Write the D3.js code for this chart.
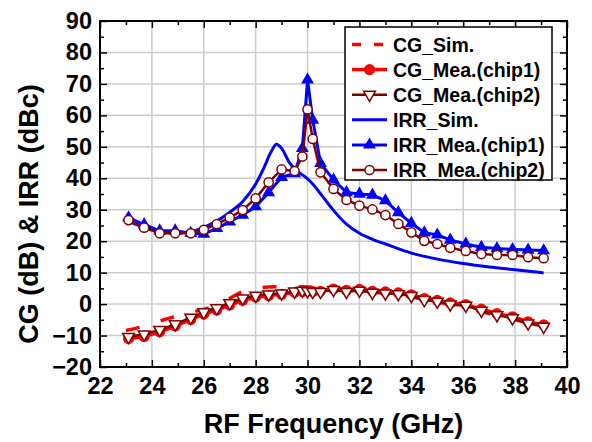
<!DOCTYPE html>
<html><head><meta charset="utf-8">
<script src="https://cdn.jsdelivr.net/npm/d3@7"></script>
<style>
html,body{margin:0;padding:0;background:#fff;}
svg{display:block;}
text{font-family:"Liberation Sans",Arial,Helvetica,sans-serif;font-weight:bold;fill:#000;}
</style></head>
<body>
<script>
// ---------- data ----------
const xTicks = [22,24,26,28,30,32,34,36,38,40];
const yTicks = [-20,-10,0,10,20,30,40,50,60,70,80,90];

const freqMea = [23.1,23.7,24.3,24.9,25.5,26.0,26.5,27.0,27.5,28.0,28.5,29.0,29.5,29.8,30.0,30.2,30.5,31.0,31.5,32.0,32.5,33.0,33.5,34.0,34.5,35.0,35.5,36.1,36.7,37.3,37.9,38.5,39.1];

const cgChip1 = [-11.0,-10.3,-8.8,-7.0,-4.9,-3.2,-1.9,-0.3,1.2,2.2,2.7,3.1,3.7,4.0,4.1,4.0,4.1,4.8,4.4,4.7,4.1,3.9,3.6,3.0,1.8,1.2,0.4,-0.1,-1.6,-3.0,-4.0,-5.6,-6.6];
const cgChip2 = [-10.4,-9.6,-8.2,-6.4,-4.3,-2.6,-1.3,0.3,1.8,2.7,3.1,3.4,4.0,4.3,4.1,3.9,3.9,4.5,3.9,4.3,3.6,3.4,3.2,2.6,1.3,0.8,-0.1,-0.5,-2.1,-3.5,-4.5,-6.1,-7.2];

const irrChip1 = [27.5,25.3,23.3,23.3,22.5,22.3,24.1,26.2,28.3,31.0,35.5,40.3,41.5,49.5,71.3,58.5,44.8,39.5,35.5,35.0,34.7,32.9,29.1,25.7,22.7,22.0,20.4,19.1,18.1,17.7,17.4,17.2,17.0];
const irrChip2 = [26.7,24.3,22.5,22.5,22.5,23.6,25.4,27.5,29.9,33.6,38.7,42.8,42.3,46.9,61.9,52.5,41.9,36.6,33.1,31.3,30.1,28.3,25.5,22.8,20.1,19.1,17.9,16.9,15.9,15.6,15.6,14.9,14.6];

const freqCgSim = [23.0,23.5,24.0,24.5,25.0,25.5,26.0,26.5,27.0,27.5,28.0,28.5,29.0,29.5,30.0,30.5,31.0,31.5,32.0,32.5,33.0,33.5,34.0,34.5,35.0,35.5,36.0,36.5,37.0,37.5,38.0,38.5,39.0];
const cgSim = [-8.4,-7.4,-6.0,-4.9,-3.7,-2.6,-1.7,-0.3,1.8,4.0,5.0,5.4,5.5,5.5,5.4,5.2,5.0,4.8,4.4,4.0,3.5,3.0,2.3,1.5,0.7,-0.1,-1.0,-2.0,-3.0,-4.0,-5.0,-6.0,-7.0];

const freqIrrSim = [23.0,23.5,24.0,24.5,25.0,25.5,26.0,26.5,27.0,27.5,28.0,28.3,28.6,28.8,29.0,29.3,29.6,29.9,30.2,30.6,31.0,31.5,32.0,32.5,33.0,34.0,35.0,36.0,37.0,38.0,39.1];
const irrSim = [26.8,25.0,23.8,23.0,22.7,23.0,24.4,26.4,29.2,32.6,38.2,43.0,48.5,50.8,49.5,45.0,42.3,40.5,38.2,34.0,29.8,25.4,22.5,20.6,19.1,16.2,14.3,12.9,11.8,10.9,9.9];

const legendLabels = ["CG_Sim.","CG_Mea.(chip1)","CG_Mea.(chip2)","IRR_Sim.","IRR_Mea.(chip1)","IRR_Mea.(chip2)"];

// ---------- layout ----------
const W = 592, H = 442;
const L = 100, R = 567, T = 21, B = 367;
const RED = "#ff0000", WINE = "#800000", BLUE = "#0000ff";

const svg = d3.select("body").append("svg").attr("width",W).attr("height",H);
const x = d3.scaleLinear().domain([22,40]).range([L,R]);
const y = d3.scaleLinear().domain([-20,90]).range([B,T]);

// grid
const grid = svg.append("g");
grid.selectAll(".gx").data(xTicks.slice(1,-1)).enter().append("line")
  .attr("x1",d=>x(d)).attr("x2",d=>x(d)).attr("y1",T).attr("y2",B)
  .attr("stroke","#cccccc").attr("stroke-width",1.5);
grid.selectAll(".gy").data(yTicks.slice(1,-1)).enter().append("line")
  .attr("y1",d=>y(d)).attr("y2",d=>y(d)).attr("x1",L).attr("x2",R)
  .attr("stroke","#cccccc").attr("stroke-width",1.5);

// axes with inward ticks on all sides
const xMinor = d3.range(23,40,2);
const yMinor = d3.range(-15,90,10);
function addAxis(axisFn, scale, major, minor, transform, labels){
  const g = svg.append("g").attr("transform",transform);
  g.call(axisFn(scale).tickValues(major).tickSize(-7).tickPadding(labels?10:0).tickFormat(labels?d3.format("d"):""));
  const g2 = svg.append("g").attr("transform",transform);
  g2.call(axisFn(scale).tickValues(minor).tickSize(-4).tickFormat(""));
  [g,g2].forEach(gg=>{
    gg.select(".domain").remove();
    gg.selectAll(".tick line").attr("stroke","#000").attr("stroke-width",1.5);
  });
  return g;
}
const gxB = addAxis(d3.axisBottom, x, xTicks, xMinor, `translate(0,${B})`, true);
addAxis(d3.axisTop, x, xTicks, xMinor, `translate(0,${T})`, false);
const gyL = addAxis(d3.axisLeft, y, yTicks, yMinor, `translate(${L},0)`, true);
addAxis(d3.axisRight, y, yTicks, yMinor, `translate(${R},0)`, false);
gxB.selectAll(".tick text").attr("font-size",23.5).attr("font-family","'Liberation Sans',Arial,sans-serif").attr("font-weight","bold").attr("fill","#000").attr("dy","0.74em");
gyL.selectAll(".tick text").attr("font-size",23.5).attr("font-family","'Liberation Sans',Arial,sans-serif").attr("font-weight","bold").attr("fill","#000").attr("x",-8);

// frame
svg.append("rect").attr("x",L).attr("y",T).attr("width",R-L).attr("height",B-T)
  .attr("fill","none").attr("stroke","#000").attr("stroke-width",2);

// axis titles
svg.append("text").attr("x",(L+R)/2).attr("y",433).attr("text-anchor","middle")
  .attr("font-size",27).text("RF Frequency (GHz)");
svg.append("text").attr("transform","translate(38,214) rotate(-90)").attr("text-anchor","middle")
  .attr("font-size",27).text("CG (dB) & IRR (dBc)");

// ---------- series ----------
const plot = svg.append("g");
const line = d3.line().x(d=>x(d[0])).y(d=>y(d[1]));
const smooth = d3.line().x(d=>x(d[0])).y(d=>y(d[1])).curve(d3.curveMonotoneX);
const zip = (a,b)=>a.map((v,i)=>[v,b[i]]);

const triUp = d3.symbol().type(d3.symbolTriangle).size(72)();
const triDown = d3.symbol().type(d3.symbolTriangle).size(60)();

// CG sim (dashed)
plot.append("path").datum(zip(freqCgSim,cgSim)).attr("d",smooth)
  .attr("fill","none").attr("stroke",RED).attr("stroke-width",3.5).attr("stroke-dasharray","14,22");

// CG chip1
plot.append("path").datum(zip(freqMea,cgChip1)).attr("d",line)
  .attr("fill","none").attr("stroke",RED).attr("stroke-width",3.5);
plot.selectAll(".c1").data(zip(freqMea,cgChip1)).enter().append("circle")
  .attr("cx",d=>x(d[0])).attr("cy",d=>y(d[1])).attr("r",5.5).attr("fill",RED);

// CG chip2
plot.append("path").datum(zip(freqMea,cgChip2)).attr("d",line)
  .attr("fill","none").attr("stroke",WINE).attr("stroke-width",2.5);
plot.selectAll(".c2").data(zip(freqMea,cgChip2)).enter().append("path")
  .attr("d",triDown).attr("transform",d=>`translate(${x(d[0])},${y(d[1])}) rotate(180)`)
  .attr("fill","#fff").attr("stroke",WINE).attr("stroke-width",1.5);

// IRR sim
plot.append("path").datum(zip(freqIrrSim,irrSim)).attr("d",smooth)
  .attr("fill","none").attr("stroke",BLUE).attr("stroke-width",3);

// IRR chip1
plot.append("path").datum(zip(freqMea,irrChip1)).attr("d",line)
  .attr("fill","none").attr("stroke",BLUE).attr("stroke-width",3);
plot.selectAll(".i1").data(zip(freqMea,irrChip1)).enter().append("path")
  .attr("d",triUp).attr("transform",d=>`translate(${x(d[0])},${y(d[1])})`)
  .attr("fill",BLUE);

// IRR chip2
plot.append("path").datum(zip(freqMea,irrChip2)).attr("d",line)
  .attr("fill","none").attr("stroke",WINE).attr("stroke-width",2.5);
plot.selectAll(".i2").data(zip(freqMea,irrChip2)).enter().append("circle")
  .attr("cx",d=>x(d[0])).attr("cy",d=>y(d[1])).attr("r",4.6)
  .attr("fill","#fff").attr("stroke",WINE).attr("stroke-width",1.5);

// ---------- legend ----------
const lg = svg.append("g");
lg.append("rect").attr("x",345).attr("y",27).attr("width",207).attr("height",153)
  .attr("fill","#fff").attr("stroke","#000").attr("stroke-width",1.5);
const styles = [
  {c:RED, w:3.5, dash:"9,13", m:null},
  {c:RED, w:3.5, m:"dot"},
  {c:WINE, w:2.5, m:"tridown"},
  {c:BLUE, w:3, m:null},
  {c:BLUE, w:3, m:"triup"},
  {c:WINE, w:2.5, m:"circ"}
];
legendLabels.forEach((lab,i)=>{
  const cy = 44.5 + i*25.1;
  const s = styles[i];
  lg.append("line").attr("x1",352).attr("x2",387).attr("y1",cy).attr("y2",cy)
    .attr("stroke",s.c).attr("stroke-width",s.w).attr("stroke-dasharray",s.dash||null);
  if(s.m==="dot") lg.append("circle").attr("cx",369.5).attr("cy",cy).attr("r",5.5).attr("fill",RED);
  if(s.m==="tridown") lg.append("path").attr("d",triDown).attr("transform",`translate(369.5,${cy}) rotate(180)`).attr("fill","#fff").attr("stroke",WINE).attr("stroke-width",1.5);
  if(s.m==="triup") lg.append("path").attr("d",triUp).attr("transform",`translate(369.5,${cy})`).attr("fill",BLUE);
  if(s.m==="circ") lg.append("circle").attr("cx",369.5).attr("cy",cy).attr("r",4.6).attr("fill","#fff").attr("stroke",WINE).attr("stroke-width",1.5);
  lg.append("text").attr("x",393).attr("y",cy).attr("dy","0.36em").attr("font-size",19.5).text(lab);
});
</script>
</body></html>
